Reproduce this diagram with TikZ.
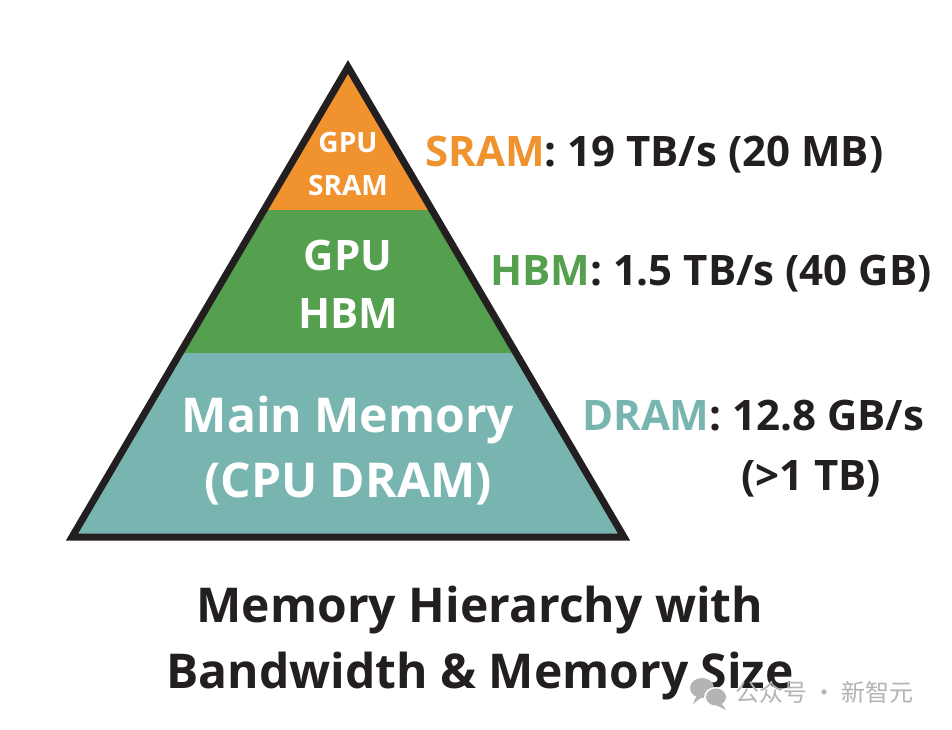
\documentclass[tikz,border=0pt]{standalone}
\usepackage{fontspec}
\setmainfont{Open Sans}
\newfontfamily\cjk{Noto Sans CJK SC}
\definecolor{sramc}{HTML}{F0922E}
\definecolor{hbmc}{HTML}{55A04E}
\definecolor{dramc}{HTML}{78B5B0}
\definecolor{ink}{HTML}{231F20}
\definecolor{wm}{HTML}{B4B4B4}
\tikzset{
  lbl/.style={inner sep=0pt, anchor=base, font=\bfseries\fontsize{#1}{#1}\selectfont},
  inlbl/.style={lbl=#1, text=white},
  rlbl/.style={inner sep=0pt, anchor=base west, text=ink, font=\bfseries\fontsize{42}{42}\selectfont},
}
\begin{document}
\begin{tikzpicture}[x=1pt,y=-1pt]
\useasboundingbox (0,0) rectangle (952,730);
\fill[white] (0,0) rectangle (952,730);
\coordinate (apex) at (348,67);
\coordinate (bl) at (72,537);
\coordinate (br) at (624,537);
\begin{scope}
\clip (apex) -- (br) -- (bl) -- cycle;
\fill[sramc] (0,0) rectangle (952,210);
\fill[hbmc] (0,210) rectangle (952,353);
\fill[dramc] (0,353) rectangle (952,545);
\end{scope}
\draw[line width=7pt, line join=miter, miter limit=20, ink] (apex) -- (br) -- (bl) -- cycle;
% inside labels
\node[inlbl=28] (g1) at (348,153) {GPU};
\node[inlbl=28] (s1) at (348,195) {SRAM};
\node[inlbl=42] (g2) at (348,270) {GPU};
\node[inlbl=42] (h2) at (348,328) {HBM};
\node[inlbl=48] (m3) at (348,432) {Main Memory};
\node[inlbl=48] (c3) at (348,497) {(CPU DRAM)};
% right labels
\node[rlbl] (rs) at (425,167) {\textcolor{sramc}{SRAM}: 19 TB/s (20 MB)};
\node[rlbl] (rh) at (490,285) {\textcolor{hbmc}{HBM}: 1.5 TB/s (40 GB)};
\node[rlbl] (rd) at (582,430) {\textcolor{dramc}{DRAM}: 12.8 GB/s};
\node[lbl=42, text=ink] (rd2) at (811,490) {(>1 TB)};
% title
\node[lbl=48, text=ink] (t1) at (480,622) {Memory Hierarchy with};
\node[lbl=48, text=ink] (t2) at (480,688) {Bandwidth \& Memory Size};
% watermark
\fill[wm] (702,688) ellipse (12 and 10);
\fill[wm] (696,697) -- (693,704) -- (702,697) -- cycle;
\fill[white] (716,697) ellipse (12 and 10);
\fill[wm] (716,697) ellipse (10 and 8.5);
\fill[wm] (722,704) -- (726,710) -- (716,705) -- cycle;
\node[inner sep=0pt, anchor=west, text=wm, font=\cjk\fontsize{24}{24}\selectfont] (wmt) at (735,692) {公众号 · 新智元};
\end{tikzpicture}
\end{document}
